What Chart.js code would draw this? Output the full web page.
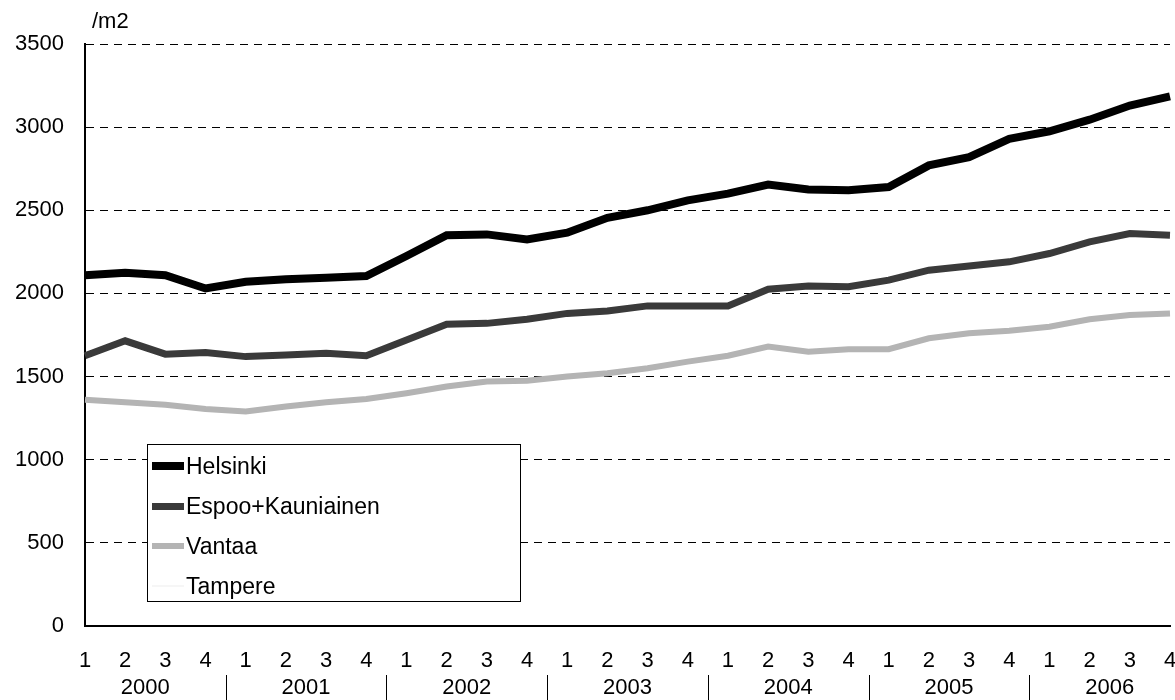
<!DOCTYPE html>
<html>
<head>
<meta charset="utf-8">
<script src="https://cdn.jsdelivr.net/npm/chart.js@4/dist/chart.umd.min.js"></script>
<style>
  body { margin: 0; background: #fff; }
  #wrap { position: relative; width: 1175px; height: 700px; }
  #legend {
    position: absolute; left: 147px; top: 444px; width: 372px; height: 156px;
    border: 1.5px solid #000; background: #fff;
    font-family: "Liberation Sans", Arial, sans-serif; font-size: 23px; color: #000;
  }
  .item { position: absolute; left: 4px; height: 40px; display: flex; align-items: center; }
  .swatch { width: 32px; margin-right: 2px; }
</style>
</head>
<body>
<div id="wrap">
  <canvas id="priceChart" width="1175" height="700"></canvas>
  <div id="legend"></div>
</div>
<script>
const quarters = ["1","2","3","4","1","2","3","4","1","2","3","4","1","2","3","4","1","2","3","4","1","2","3","4","1","2","3","4"];
const years = ["2000","2001","2002","2003","2004","2005","2006"];

const helsinki = [2110, 2125, 2110, 2030, 2070, 2085, 2095, 2105, 2225, 2350, 2355, 2325, 2365, 2455, 2500, 2560, 2600, 2655, 2625, 2620, 2640, 2770, 2820, 2930, 2975, 3045, 3130, 3185];
const espoo = [1625, 1715, 1635, 1645, 1620, 1630, 1640, 1625, 1720, 1815, 1820, 1845, 1880, 1895, 1925, 1925, 1925, 2025, 2045, 2040, 2080, 2140, 2165, 2190, 2240, 2310, 2360, 2350];
const vantaa = [1360, 1345, 1330, 1305, 1290, 1320, 1345, 1365, 1400, 1440, 1470, 1475, 1500, 1520, 1550, 1590, 1625, 1680, 1650, 1665, 1665, 1730, 1760, 1775, 1800, 1845, 1870, 1880];
// Tampere line is not readable in the scan (prints almost white)
const tampere = [];

const FONT = "'Liberation Sans', Arial, sans-serif";

// year row + separators under the quarter numbers, and the "/m2" unit
const extraLabels = {
  id: "extraLabels",
  afterDraw(chart) {
    const ctx = chart.ctx;
    const x = chart.scales.x;
    ctx.save();
    ctx.fillStyle = "#000";
    ctx.font = "22px " + FONT;
    ctx.textAlign = "center";
    ctx.textBaseline = "middle";
    years.forEach((y, k) => {
      ctx.fillText(y, x.getPixelForValue(k * 4 + 1.5), 688);
    });
    ctx.strokeStyle = "#000";
    ctx.lineWidth = 1;
    for (let k = 0; k < years.length - 1; k++) {
      const px = Math.round(x.getPixelForValue(k * 4 + 3.5)) + 0.5;
      ctx.beginPath();
      ctx.moveTo(px, 675);
      ctx.lineTo(px, 700);
      ctx.stroke();
    }
    ctx.textAlign = "left";
    ctx.fillText("/m2", chart.chartArea.left + 7, 22);
    ctx.restore();
  }
};

const chart = new Chart(document.getElementById("priceChart"), {
  type: "line",
  data: {
    labels: quarters,
    datasets: [
      { label: "Helsinki", data: helsinki, borderColor: "#000", borderWidth: 8 },
      { label: "Espoo+Kauniainen", data: espoo, borderColor: "#3a3a3a", borderWidth: 7 },
      { label: "Vantaa", data: vantaa, borderColor: "#b4b4b4", borderWidth: 6 },
      { label: "Tampere", data: tampere, borderColor: "#f6f6f6", borderWidth: 2 }
    ]
  },
  options: {
    responsive: false,
    animation: false,
    layout: { padding: { top: 44, right: 5 } },
    elements: { point: { radius: 0 }, line: { tension: 0 } },
    plugins: { legend: { display: false }, tooltip: { enabled: false } },
    scales: {
      x: {
        grid: { color: "rgba(0,0,0,0)", drawTicks: false },
        border: { color: "#000", width: 2 },
        ticks: { color: "#000", font: { family: FONT, size: 22 }, padding: 22, maxRotation: 0, autoSkip: false },
        afterFit: (s) => { s.height = 74; s.paddingLeft = 0; s.paddingRight = 0; }
      },
      y: {
        min: 0, max: 3500,
        grid: { color: "#000", lineWidth: 1, drawTicks: false },
        border: { color: "#000", width: 2, dash: [8, 6] },
        ticks: { stepSize: 500, color: "#000", font: { family: FONT, size: 22 }, padding: 21, callback: (v) => String(v) },
        afterFit: (s) => { s.width = 85; s.paddingTop = 0; s.paddingBottom = 0; }
      }
    }
  },
  plugins: [extraLabels]
});

// legend built from the chart's datasets
const legendBox = document.getElementById("legend");
chart.data.datasets.forEach((ds, i) => {
  const item = document.createElement("div");
  item.className = "item";
  item.style.top = (1 + i * 40) + "px";
  const sw = document.createElement("div");
  sw.className = "swatch";
  sw.style.height = ds.borderWidth + "px";
  sw.style.background = ds.borderColor;
  const txt = document.createElement("span");
  txt.textContent = ds.label;
  item.appendChild(sw);
  item.appendChild(txt);
  legendBox.appendChild(item);
});
</script>
</body>
</html>
